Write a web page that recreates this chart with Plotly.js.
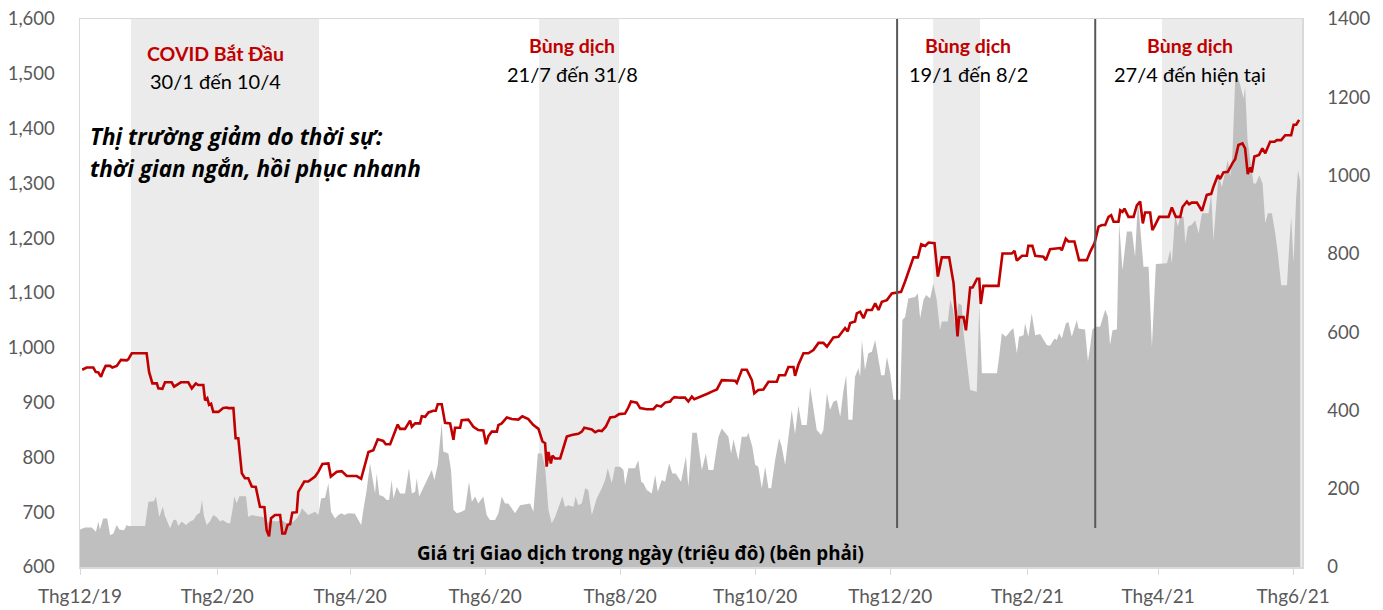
<!DOCTYPE html>
<html>
<head>
<meta charset="utf-8">
<script src="https://cdn.plot.ly/plotly-3.0.1.min.js"></script>
<style>html,body{margin:0;padding:0;background:#fff;}#chart{width:1383px;height:610px;}</style>
</head>
<body>
<div id="chart"></div>
<script>
// x values are days counted from 1 Dec 2019 (the "Thg12/19" tick)
const tickDays = [0, 62, 122, 183, 244, 305, 366, 428, 487, 548];
const tickLabels = ['Thg12/19','Thg2/20','Thg4/20','Thg6/20','Thg8/20','Thg10/20','Thg12/20','Thg2/21','Thg4/21','Thg6/21'];

// Index level (left axis)
const indexDays = [
1.0,3.0,6.0,7.1,8.3,9.5,10.5,11.6,13.6,14.6,16.6,18.5,21.1,21.8,23.4,30.1,31.2,32.7,34.7,35.4,37.2,38.4,41.4,42.5,45.6,48.9,50.5,52.3,53.4,55.7,56.5,57.5,58.3,59.2,60.2,62.5,64.7,66.3,67.0,69.3,70.3,71.5,73.1,74.5,76.0,77.6,79.4,81.3,83.3,84.3,85.4,86.3,88.1,90.4,91.4,92.6,93.8,94.9,95.9,97.9,98.6,100.2,101.3,103.1,104.9,
106.2,107.7,109.5,112.2,113.3,116.0,118.2,120.5,125.0,127.0,130.3,132.5,134.5,137.0,138.1,140.1,141.6,143.5,144.6,146.8,149.1,149.9,151.4,153.6,154.4,155.9,157.4,159.6,160.7,161.6,163.4,164.9,167.2,168.7,169.4,171.7,172.4,175.4,177.7,179.9,182.2,183.4,184.5,186.0,188.3,189.0,190.5,192.8,195.0,198.0,199.8,202.5,204.8,207.1,208.9,210.1,210.8,211.6,212.7,213.4,214.6,
216.9,219.9,222.1,225.1,226.7,227.8,231.2,232.7,234.2,235.7,237.5,239.5,241.7,243.5,246.2,247.7,248.9,251.5,253.0,256.0,259.0,260.5,262.5,264.3,266.6,267.3,268.5,271.1,273.3,274.8,276.4,277.5,279.3,281.6,283.9,285.4,287.7,289.9,292.9,295.9,296.7,299.0,301.2,303.5,304.6,306.4,308.7,311.0,314.8,315.8,318.5,320.0,322.3,323.0,
324.5,326.8,329.0,331.3,333.6,335.8,337.4,340.3,342.6,344.1,345.6,346.8,347.9,350.1,350.9,352.4,353.9,355.4,357.7,359.2,360.7,362.2,364.5,366.7,368.2,370.9,372.7,376.5,378.5,380.0,381.8,383.3,386.0,387.5,389.3,392.6,394.6,396.4,397.1,399.1,400.2,402.1,403.2,405.2,406.2,406.9,408.1,414.9,416.7,420.9,422.1,423.2,425.5,427.7,428.4,430.2,431.5,
434.5,435.2,436.3,438.2,442.7,443.5,445.3,446.5,449.2,451.3,454.8,456.3,458.3,460.1,461.6,463.1,464.6,465.8,466.9,469.1,469.9,470.9,471.8,473.6,475.9,477.4,478.9,480.1,481.1,483.4,484.4,485.3,487.5,491.7,493.2,495.0,497.0,498.0,500.0,501.0,502.2,504.5,506.8,509.0,511.0,512.0,514.0,515.0,516.5,518.5,520.6,521.8,523.3,525.1,526.3,527.5,528.6,529.3,530.5,532.6,534.1,535.4,537.6,539.6,540.6,542.6,544.4,547.1,548.2,549.4,550.7];
const indexValues = [
960,964,964,956,955,947,958,967,967,964,967,978,977,979,990,990,956,935,935,926,925,937,937,929,937,937,926,935,932,932,904,908,896,898,883,883,890,891,890,890,835,835,771,762,762,747,746,710,709,667,656,689,695,695,661,661,677,678,699,700,737,747,756,756,762,
765,774,788,789,765,774,775,766,766,761,810,813,833,830,824,824,841,860,852,852,867,856,862,862,875,874,882,885,885,897,897,863,862,832,854,854,868,869,856,850,849,824,839,847,847,859,862,873,870,869,875,870,859,852,829,826,783,810,789,803,798,
798,838,841,843,847,854,851,846,849,848,856,873,874,879,880,891,902,900,890,888,888,895,893,900,902,906,910,909,909,902,911,906,909,912,917,920,924,941,941,940,936,960,960,941,917,923,924,938,938,950,950,965,965,949,
969,990,990,996,1009,1009,1002,1019,1020,1029,1036,1030,1045,1048,1063,1066,1054,1069,1069,1081,1069,1084,1087,1099,1100,1102,1121,1165,1165,1189,1186,1192,1191,1130,1165,1165,1118,1021,1056,1056,1032,1110,1110,1126,1126,1080,1113,1113,1172,1172,1177,1159,1168,1168,1186,1186,1168,
1167,1166,1160,1180,1182,1178,1199,1194,1194,1160,1160,1175,1191,1221,1224,1224,1239,1242,1230,1230,1251,1248,1254,1239,1239,1260,1267,1227,1247,1247,1215,1221,1239,1239,1256,1239,1239,1257,1267,1262,1265,1265,1250,1279,1281,1294,1315,1308,1320,1321,1337,1344,1370,1373,1364,1317,1329,1320,1349,1352,1364,1355,1376,1376,1379,1379,1388,1388,1407,1407,1416];

// Daily trading value, million USD (right axis)
const valueDays = [
0,2.3,5.3,7.2,8.3,9.0,10.5,12.3,13.6,15.0,16.6,17.8,19.9,21.1,21.8,29.4,30.9,33.4,34.3,35.8,37.4,38.4,40.7,42.2,43.4,44.4,45.9,47.9,49.7,51.2,52.7,54.2,55.1,56.0,57.2,58.7,60.2,61.8,63.3,64.5,66.3,67.8,69.0,69.7,70.8,72.0,75.0,76.0,77.6,79.8,82.8,84.3,86.6,88.9,91.1,93.4,96.4,97.9,99.4,100.2,103.1,
106.2,107.7,108.9,110.7,112.2,113.4,115.2,116.7,118.2,119.4,121.2,124.2,125.7,127.0,128.0,129.5,131.0,132.1,133.3,134.0,135.2,137.0,138.6,139.6,140.8,141.6,143.1,144.6,146.8,148.6,149.9,151.4,152.1,153.2,154.6,155.9,157.4,158.9,160.1,161.6,163.4,164.1,166.4,167.6,168.7,170.2,172.4,173.9,175.7,177.0,178.5,179.9,182.2,183.7,185.2,187.5,189.0,190.5,192.0,193.5,195.0,196.5,198.8,203.3,204.8,206.8,208.6,210.1,211.6,213.1,214.6,
216.1,217.9,219.1,220.6,222.9,223.9,225.1,226.7,228.2,229.6,231.2,233.4,235.7,237.2,238.4,240.2,241.7,244.0,245.5,246.2,247.7,250.7,252.2,253.5,254.5,256.0,258.3,259.8,261.0,262.8,264.3,266.1,267.6,269.1,271.5,273.7,274.8,276.6,278.6,280.1,280.9,282.7,283.9,286.1,286.9,288.4,289.9,291.4,292.9,294.1,295.2,297.4,298.9,301.2,301.9,303.7,305.0,306.4,308.0,309.5,311.0,312.2,314.0,315.8,317.0,318.5,320.0,321.5,323.0,
324.5,326.0,328.3,329.8,331.3,332.8,334.8,335.8,337.4,338.8,340.3,341.9,343.4,344.9,346.1,347.1,348.9,350.1,351.6,352.4,353.2,354.6,356.1,357.7,359.2,360.7,361.9,363.4,364.5,366.0,367.5,370.5,371.5,372.7,374.2,377.2,378.5,379.5,381.0,382.2,384.0,385.5,387.0,388.5,389.3,392.0,393.1,394.1,395.3,396.8,398.3,399.0,400.5,402.1,405.1,406.2,407.4,414.2,415.2,416.4,418.2,419.4,420.6,421.6,423.2,424.2,426.2,426.9,428.4,429.9,431.5,433.7,435.2,
436.7,438.2,440.2,441.2,442.3,443.5,445.3,446.5,448.0,450.3,451.0,454.0,455.3,456.3,457.3,458.9,460.8,463.1,464.3,465.3,466.4,468.4,469.4,470.9,472.9,475.2,476.6,477.9,479.4,480.4,482.7,484.2,486.0,491.0,492.5,493.2,494.7,495.9,497.0,498.5,499.3,500.5,502.0,503.8,505.3,506.8,509.8,511.0,512.0,513.6,514.3,515.8,517.3,518.5,519.6,520.6,521.8,522.6,524.1,525.6,526.3,527.4,528.6,530.1,531.2,532.7,534.2,535.4,536.6,538.4,539.9,541.1,542.6,545.2,546.2,547.1,548.2,549.3,550.2,551.2];
const valueValues = [
96,101,101,90,116,96,124,124,82,85,107,96,94,107,105,105,167,168,180,128,154,130,99,120,121,105,116,107,116,120,133,139,171,130,107,116,133,127,116,120,113,111,150,180,163,181,181,128,133,130,128,113,118,116,120,111,116,124,137,150,133,
141,133,175,177,214,141,124,133,137,133,137,136,120,107,146,197,265,222,188,239,184,180,171,171,222,175,205,188,188,252,188,192,227,180,197,214,231,248,222,261,367,295,290,248,146,137,141,146,218,167,180,162,180,133,120,120,137,180,162,162,150,137,158,162,141,290,290,256,146,112,128,
150,180,154,158,154,180,158,163,201,197,133,175,201,222,252,214,256,256,248,209,252,252,273,218,214,197,188,235,192,222,218,265,239,239,218,282,205,343,343,282,248,290,248,248,282,333,354,343,333,290,326,273,333,333,343,307,261,256,201,256,201,201,273,329,307,261,333,401,340,
412,363,363,461,410,350,337,350,444,401,422,426,384,452,490,376,376,486,508,486,580,503,546,550,580,533,490,490,537,495,427,427,631,639,686,690,699,635,682,695,686,724,682,605,627,627,682,665,618,674,669,605,529,452,448,665,495,495,537,597,588,597,605,610,546,588,592,623,588,648,592,595,580,
567,565,584,580,597,584,622,626,588,631,609,607,525,563,607,614,614,657,640,567,605,607,878,759,857,857,793,938,831,767,767,563,774,776,810,776,899,870,895,895,827,870,874,886,852,904,904,955,835,955,1001,971,1014,1040,997,1057,1244,1261,1231,1197,1227,1091,1040,980,980,1001,980,878,904,904,853,801,720,720,818,895,776,938,1014,984];

// Outbreak periods (shaded) and event lines, in the same day units
const bandStarts = [23.0, 207.4, 385.4, 488.8];
const bandEnds   = [108.0, 243.5, 406.6, 552];
const eventLines = [369.1, 458.6];

const bandTitles = ['COVID Bắt Đầu', 'Bùng dịch', 'Bùng dịch', 'Bùng dịch'];
const bandDates  = ['30/1 đến 10/4', '21/7 đến 31/8', '19/1 đến 8/2', '27/4 đến hiện tại'];

const FONT = 'Lato, "Open Sans", sans-serif';
const FONT_WIDE = '"Open Sans", Lato, sans-serif';
const RED = '#C00000';

const traces = [
  {x: valueDays, y: valueValues, type: 'scatter', mode: 'lines', fill: 'tozeroy',
   fillcolor: '#BFBFBF', line: {width: 0, color: '#BFBFBF'}, yaxis: 'y', hoverinfo: 'skip'},
  {x: indexDays, y: indexValues, type: 'scatter', mode: 'lines',
   line: {width: 2.6, color: RED}, yaxis: 'y2', hoverinfo: 'skip'}
];

const shapes = [];
bandStarts.forEach((s, i) => shapes.push({type: 'rect', xref: 'x', yref: 'paper', x0: s, x1: bandEnds[i], y0: 0, y1: 1,
  fillcolor: '#EBEBEB', line: {width: 0}, layer: 'below'}));
eventLines.forEach(d => shapes.push({type: 'line', xref: 'x', yref: 'paper', x0: d, x1: d, y0: 0.071, y1: 1,
  line: {color: '#595959', width: 2}, layer: 'above'}));

const titleX = [0.111, 0.403, 0.727, 0.908];
const annotations = [];
bandTitles.forEach((t, i) => {
  annotations.push({text: '<b>' + t + '</b>', xref: 'paper', yref: 'paper', x: titleX[i], y: i === 0 ? 0.937 : 0.951,
    showarrow: false, xanchor: 'center', yanchor: 'middle', font: {family: FONT, size: 19.5, color: RED}});
  annotations.push({text: bandDates[i], xref: 'paper', yref: 'paper', x: titleX[i], y: i === 0 ? 0.886 : 0.900,
    showarrow: false, xanchor: 'center', yanchor: 'middle', font: {family: FONT, size: 20, color: '#000'}});
});
annotations.push({text: '<b><i>Thị trường giảm do thời sự:</i></b>', xref: 'paper', yref: 'paper', x: 0.0065, y: 0.785,
  showarrow: false, xanchor: 'left', yanchor: 'middle', font: {family: FONT_WIDE, size: 22.5, color: '#000'}});
annotations.push({text: '<b><i>thời gian ngắn, hồi phục nhanh</i></b>', xref: 'paper', yref: 'paper', x: 0.0065, y: 0.728,
  showarrow: false, xanchor: 'left', yanchor: 'middle', font: {family: FONT_WIDE, size: 22.5, color: '#000'}});
annotations.push({text: '<b>Giá trị Giao dịch trong ngày (triệu đô) (bên phải)</b>', xref: 'paper', yref: 'paper', x: 0.4585, y: 0.026,
  showarrow: false, xanchor: 'center', yanchor: 'middle', font: {family: FONT_WIDE, size: 18.8, color: '#000'}});

const layout = {
  width: 1383, height: 610,
  margin: {l: 80, r: 81, t: 19, b: 43, pad: 0},
  paper_bgcolor: '#fff', plot_bgcolor: '#fff',
  showlegend: false,
  font: {family: FONT, size: 18, color: '#595959'},
  xaxis: {type: 'linear', range: [0, 552], tickvals: tickDays, ticktext: tickLabels,
    ticks: 'outside', ticklen: 6, tickcolor: '#D9D9D9', tickwidth: 1,
    showline: true, linecolor: '#D9D9D9', linewidth: 1.5, mirror: true,
    showgrid: false, zeroline: false, ticklabelstandoff: 6,
    tickfont: {family: FONT, size: 19, color: '#595959'}},
  yaxis: {range: [0, 1400], dtick: 200, side: 'right', tickformat: 'd',
    showgrid: false, zeroline: false, showline: true, linecolor: '#D9D9D9', linewidth: 1.5,
    ticks: '', ticklabelstandoff: 20,
    tickfont: {family: FONT, size: 18.5, color: '#595959'}},
  yaxis2: {range: [600, 1600], dtick: 100, side: 'left', overlaying: 'y', tickformat: ',d',
    showgrid: false, zeroline: false, showline: true, linecolor: '#D9D9D9', linewidth: 1.5,
    ticks: '', ticklabelstandoff: 20,
    tickfont: {family: FONT, size: 18.5, color: '#595959'}},
  shapes: shapes,
  annotations: annotations
};

Plotly.newPlot('chart', traces, layout, {staticPlot: true, displayModeBar: false});
</script>
</body>
</html>
